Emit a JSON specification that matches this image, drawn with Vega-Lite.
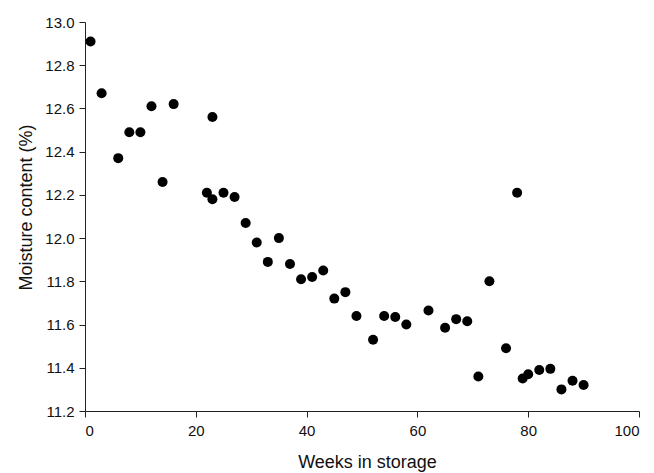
{
  "$schema": "https://vega.github.io/schema/vega-lite/v6.json",
  "width": 554,
  "height": 389,
  "autosize": {"type": "none"},
  "padding": {"left": 85, "top": 22, "right": 15, "bottom": 62},
  "background": "white",
  "config": {
    "view": {"stroke": null},
    "font": "Liberation Sans",
    "axis": {
      "grid": false,
      "domainColor": "#222222",
      "tickColor": "#222222",
      "tickSize": 6,
      "labelColor": "#111111",
      "titleColor": "#111111",
      "labelFont": "Liberation Sans",
      "titleFont": "Liberation Sans",
      "labelFontSize": 15,
      "titleFontSize": 18,
      "titleFontWeight": "normal"
    }
  },
  "data": {
    "values": [
      {"week": 1, "moisture": 12.91},
      {"week": 3, "moisture": 12.67},
      {"week": 6, "moisture": 12.37},
      {"week": 8, "moisture": 12.49},
      {"week": 10, "moisture": 12.49},
      {"week": 12, "moisture": 12.61},
      {"week": 14, "moisture": 12.26},
      {"week": 16, "moisture": 12.62},
      {"week": 22, "moisture": 12.21},
      {"week": 23, "moisture": 12.18},
      {"week": 23, "moisture": 12.56},
      {"week": 25, "moisture": 12.21},
      {"week": 27, "moisture": 12.19},
      {"week": 29, "moisture": 12.07},
      {"week": 31, "moisture": 11.98},
      {"week": 33, "moisture": 11.89},
      {"week": 35, "moisture": 12.0},
      {"week": 37, "moisture": 11.88},
      {"week": 39, "moisture": 11.81},
      {"week": 41, "moisture": 11.82},
      {"week": 43, "moisture": 11.85},
      {"week": 45, "moisture": 11.72},
      {"week": 47, "moisture": 11.75},
      {"week": 49, "moisture": 11.64},
      {"week": 52, "moisture": 11.53},
      {"week": 54, "moisture": 11.64},
      {"week": 56, "moisture": 11.635},
      {"week": 58, "moisture": 11.6},
      {"week": 62, "moisture": 11.665},
      {"week": 65, "moisture": 11.585},
      {"week": 67, "moisture": 11.625},
      {"week": 69, "moisture": 11.615},
      {"week": 71, "moisture": 11.36},
      {"week": 73, "moisture": 11.8},
      {"week": 76, "moisture": 11.49},
      {"week": 78, "moisture": 12.21},
      {"week": 79, "moisture": 11.35},
      {"week": 80, "moisture": 11.37},
      {"week": 82, "moisture": 11.39},
      {"week": 84, "moisture": 11.395},
      {"week": 86, "moisture": 11.3},
      {"week": 88, "moisture": 11.34},
      {"week": 90, "moisture": 11.32}
    ]
  },
  "mark": {"type": "point", "filled": true, "color": "black", "opacity": 1, "size": 100},
  "encoding": {
    "x": {
      "field": "week",
      "type": "quantitative",
      "scale": {"domain": [0, 100], "nice": false, "zero": false},
      "axis": {"values": [0, 20, 40, 60, 80, 100], "title": "Weeks in storage", "labelPadding": 6, "titlePadding": 15, "titleX": 282}
    },
    "y": {
      "field": "moisture",
      "type": "quantitative",
      "scale": {"domain": [11.2, 13.0], "nice": false, "zero": false},
      "axis": {"values": [11.2, 11.4, 11.6, 11.8, 12.0, 12.2, 12.4, 12.6, 12.8, 13.0], "format": ".1f", "title": "Moisture content (%)", "labelPadding": 5, "titlePadding": 9, "titleY": 185}
    }
  }
}
